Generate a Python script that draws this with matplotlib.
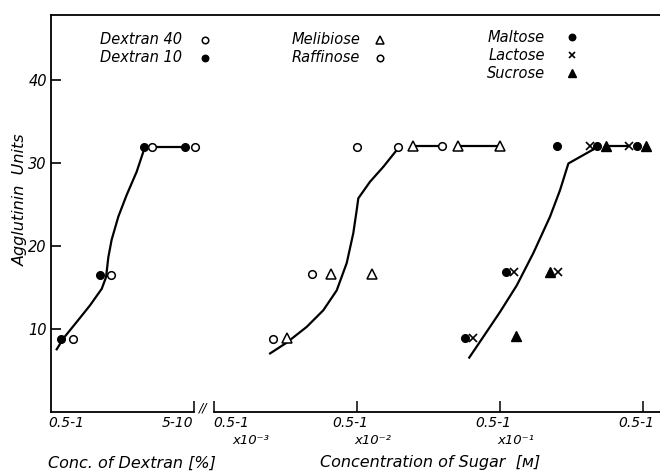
import matplotlib
matplotlib.use("Agg")
import numpy as np
from matplotlib import pyplot as plt

# x values are log10 of concentration (dextran in %, sugars in M)
dex10_x = [0.068, 0.343, 0.650, 0.937]
dex10_y = [8.7, 16.4, 31.9, 31.9]
dex40_x = [0.152, 0.420, 0.706, 1.007]
dex40_y = [8.7, 16.4, 31.9, 31.9]
dex_curve_x = [0.040, 0.086, 0.180, 0.273, 0.355, 0.385, 0.401, 0.424, 0.471, 0.529, 0.599, 0.655]
dex_curve_y = [7.5, 8.8, 10.8, 12.8, 14.8, 16.2, 18.6, 20.7, 23.5, 26.1, 28.9, 31.8]

raf_x = [-2.587, -2.315, -2.000, -1.709, -1.406]
raf_y = [8.8, 16.6, 31.9, 31.9, 32.0]
mel_x = [-2.490, -2.180, -1.895, -1.608, -1.290, -0.998]
mel_y = [8.9, 16.6, 16.6, 32.0, 32.0, 32.0]
curve1_x = [-2.606, -2.490, -2.350, -2.234, -2.140, -2.070, -2.024, -2.000, -1.989, -1.907, -1.814, -1.712]
curve1_y = [7.0, 8.3, 10.2, 12.2, 14.6, 17.9, 21.5, 24.3, 25.7, 27.7, 29.5, 31.7]

mal_x = [-1.243, -0.958, -0.601, -0.320, -0.040]
mal_y = [8.9, 16.8, 32.0, 32.0, 32.0]
lac_x = [-1.185, -0.900, -0.590, -0.369, -0.096]
lac_y = [8.9, 16.8, 16.8, 32.0, 32.0]
suc_x = [-0.886, -0.648, -0.257, 0.023]
suc_y = [9.1, 16.8, 32.0, 32.0]
curve2_x = [-1.213, -1.115, -0.998, -0.881, -0.765, -0.648, -0.578, -0.520, -0.345]
curve2_y = [6.5, 9.0, 12.0, 15.2, 19.1, 23.5, 26.7, 29.9, 31.6]

SUGAR_OFF = 4.138  # where log10(M) sits on the shared axis
def sx(v):
    return np.array(v) + SUGAR_OFF

W, H = 660, 472
fig = plt.figure(figsize=(6.6, 4.72), dpi=100)
ax = fig.add_axes([51 / W, 1 - 411.5 / H, (W - 51) / W, (411.5 - 15) / H])
FONT = dict(family="DejaVu Sans", style="italic")
lw = 1.6

# curves and plateau connectors
ax.plot(dex_curve_x, dex_curve_y, color="black", lw=lw, zorder=1)
ax.plot([dex40_x[2], dex10_x[3]], [dex40_y[2], dex10_y[3]], color="black", lw=lw, zorder=1)
ax.plot(sx(curve1_x), curve1_y, color="black", lw=lw, zorder=1)
ax.plot(sx([mel_x[3], raf_x[4]]), [mel_y[3], raf_y[4]], color="black", lw=lw, zorder=1)
ax.plot(sx([mel_x[4], mel_x[5]]), [mel_y[4], mel_y[5]], color="black", lw=lw, zorder=1)
ax.plot(sx(curve2_x), curve2_y, color="black", lw=lw, zorder=1)
ax.plot(sx([suc_x[2], lac_x[4]]), [suc_y[2], lac_y[4]], color="black", lw=lw, zorder=1)

open_c = dict(marker="o", ms=5.5, mfc="white", mec="black", mew=1.1, ls="none", zorder=3)
fill_c = dict(marker="o", ms=5.5, mfc="black", mec="black", ls="none", zorder=3)
open_t = dict(marker="^", ms=6.5, mfc="white", mec="black", mew=1.1, ls="none", zorder=3)
fill_t = dict(marker="^", ms=6.5, mfc="black", mec="black", ls="none", zorder=3)
cross = dict(marker="x", ms=5.5, mec="black", mew=1.2, ls="none", zorder=3)

ax.plot(dex10_x, dex10_y, **fill_c)
ax.plot(dex40_x, dex40_y, **open_c)
ax.plot(sx(raf_x), raf_y, **open_c)
ax.plot(sx(mel_x), mel_y, **open_t)
ax.plot(sx(mal_x), mal_y, **fill_c)
ax.plot(sx(lac_x), lac_y, **cross)
ax.plot(sx(suc_x), suc_y, **fill_t)

ax.set_xlim(0, (W - 51) / 143)
ax.set_ylim(0, 47.8)

# frame: left + top, broken bottom axis
for s in ["right", "bottom"]:
    ax.spines[s].set_visible(False)
for s in ["left", "top"]:
    ax.spines[s].set_linewidth(1.3)
ax.plot([0, 1.0], [0, 0], color="black", lw=1.3, clip_on=False, zorder=2)
ax.plot(sx([-3, 0.12]), [0, 0], color="black", lw=1.3, clip_on=False, zorder=2)

ax.set_yticks([10, 20, 30, 40])
ax.set_yticklabels(["10", "20", "30", "40"], fontsize=10.5, **FONT)
ax.tick_params(axis="y", direction="in", length=7.5, width=1.2, pad=3)
ax.set_xticks([1.0, sx(-3), sx(-2), sx(-1), sx(0)])
ax.set_xticklabels([])
ax.tick_params(axis="x", direction="in", length=8, width=1.1, bottom=True)

def ftext(px, py, s, **kw):
    fig.text(px / W, 1 - py / H, s, **FONT, **kw)

# x tick labels
ftext(48, 423, "0.5-1", fontsize=10, ha="left", va="center")
ftext(193, 423, "5-10", fontsize=10, ha="right", va="center")
ftext(203, 408, "//", fontsize=9, ha="center", va="center")
ftext(213, 423, "0.5-1", fontsize=10, ha="left", va="center")
ftext(251, 440, "x10⁻³", fontsize=9.5, ha="center", va="center")
for px, sup in [(357, "⁻²"), (500, "⁻¹")]:
    ftext(px - 7, 423, "0.5-1", fontsize=10, ha="center", va="center")
    ftext(px + 16, 440, "x10" + sup, fontsize=9.5, ha="center", va="center")
ftext(636, 423, "0.5-1", fontsize=10, ha="center", va="center")

# axis titles
ftext(48, 463, "Conc. of Dextran [%]", fontsize=11.5, ha="left", va="center")
ftext(320, 462, "Concentration of Sugar  [ᴍ]", fontsize=11.5, ha="left", va="center")
ftext(20, 200, "Agglutinin  Units", fontsize=11.5, ha="center", va="center", rotation=90)

# key
key = [
    (182, 205, 40, "Dextran 40", open_c),
    (182, 205, 58, "Dextran 10", fill_c),
    (360, 380, 40, "Melibiose", open_t),
    (360, 380, 58, "Raffinose", open_c),
    (545, 572, 37, "Maltose", fill_c),
    (545, 572, 55, "Lactose", cross),
    (545, 572, 73, "Sucrose", fill_t),
]
for tx, mx, py, label, style in key:
    ftext(tx, py, label, fontsize=10.5, ha="right", va="center")
    st = dict(style)
    st["ms"] = st["ms"] * 0.85
    ax.plot([mx / W], [1 - py / H], transform=fig.transFigure, clip_on=False, **st)

fig.savefig("out.png", dpi=100)
